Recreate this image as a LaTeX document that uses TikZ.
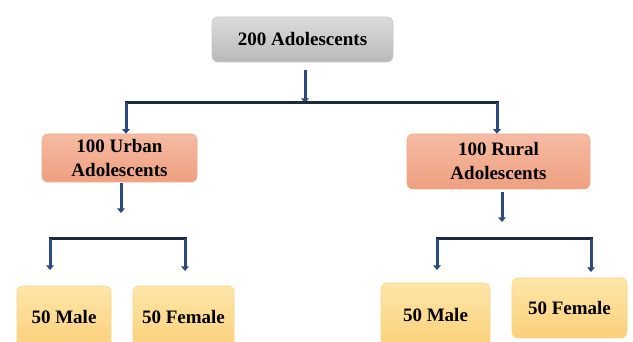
\documentclass[tikz,border=0pt]{standalone}
\usepackage{fontspec}
\setmainfont{Liberation Serif}
\usetikzlibrary{arrows.meta}
\definecolor{arrowblue}{HTML}{2E4A7D}
\definecolor{barcol}{HTML}{1E2A3A}
\definecolor{graytop}{HTML}{DCDCDC}
\definecolor{graybot}{HTML}{B9B9B9}
\definecolor{salmtop}{HTML}{F5BBA2}
\definecolor{salmbot}{HTML}{EF9F80}
\definecolor{yeltop}{HTML}{FDE6A8}
\definecolor{yelbot}{HTML}{FBD07A}
\tikzset{
  box/.style={rounded corners=6pt, align=center, inner sep=0pt,
    font=\fontsize{19}{24}\selectfont\bfseries, text=black},
  graybox/.style={box, top color=graytop, bottom color=graybot, draw=graybot!80!white, line width=0.6pt},
  salmbox/.style={box, top color=salmtop, bottom color=salmbot, draw=salmbot!90!white, line width=0.6pt},
  yelbox/.style={box, top color=yeltop, bottom color=yelbot, draw=yelbot!90!white, line width=0.6pt},
  arr/.style={draw=arrowblue, line width=3pt, -{Triangle[width=7.5pt,length=4.5pt]}},
  bar/.style={draw=barcol, line width=3pt, line cap=rect},
}
\begin{document}
\begin{tikzpicture}[x=1pt,y=-1pt]
\useasboundingbox (0,0) rectangle (633,342);
\clip (0,0) rectangle (633,342);
% boxes
\node[graybox, minimum width=181pt, minimum height=45pt] (top) at (302.5,39.5) {200 Adolescents};
\node[salmbox, minimum width=155pt, minimum height=48pt] (urban) at (119.5,158) {100 Urban\\Adolescents};
\node[salmbox, minimum width=183pt, minimum height=55pt] (rural) at (498.5,161.5) {100 Rural\\Adolescents};
\node[yelbox, minimum width=94pt, minimum height=62pt] (um) at (64,317) {50 Male};
\node[yelbox, minimum width=101pt, minimum height=62pt] (uf) at (183.5,317) {50 Female};
\node[yelbox, minimum width=109pt, minimum height=64pt] (rm) at (435.5,315) {50 Male};
\node[yelbox, minimum width=115pt, minimum height=60pt] (rf) at (569.5,308) {50 Female};
% junction coordinates
\coordinate (tj) at (305,103);
\coordinate (hL) at (126,103);
\coordinate (hR) at (497,103);
\coordinate (uend) at (121,213);
\coordinate (rend) at (502,222);
\coordinate (ubL) at (50,239);
\coordinate (ubR) at (185,239);
\coordinate (rbL) at (437,239);
\coordinate (rbR) at (591,239);
\coordinate (umt) at (50,270);
\coordinate (uft) at (185,271);
\coordinate (rmt) at (437,270);
\coordinate (rft) at (591,272);
% connectors
\draw[arr] (top.south -| tj) ++(0,8) -- (tj);
\draw[bar] (hL) -- (hR);
\draw[arr] (hL) -- (urban.north -| hL);
\draw[arr] (hR) -- (rural.north -| hR);
\draw[arr] (urban.south -| uend) ++(0,1) -- (uend);
\draw[arr] (rural.south -| rend) ++(0,3) -- (rend);
\draw[bar] (ubL) -- (ubR);
\draw[bar] (rbL) -- (rbR);
\draw[arr] (ubL) -- (umt);
\draw[arr] (ubR) -- (uft);
\draw[arr] (rbL) -- (rmt);
\draw[arr] (rbR) -- (rft);
\end{tikzpicture}
\end{document}
